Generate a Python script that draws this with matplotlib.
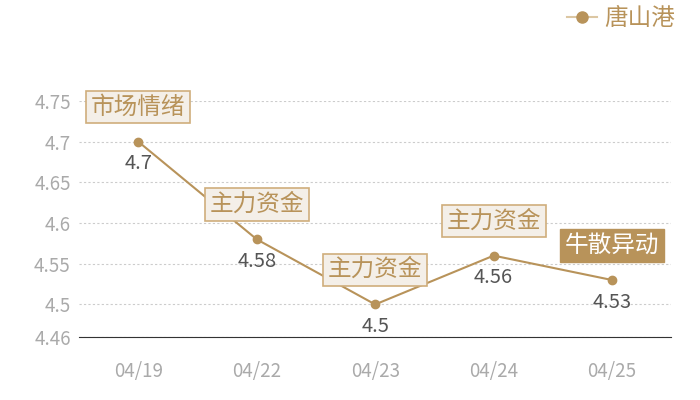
import matplotlib.pyplot as plt

plt.rcParams['font.family'] = ['Noto Sans CJK SC', 'DejaVu Sans']

dates = ['04/19', '04/22', '04/23', '04/24', '04/25']
prices = [4.70, 4.58, 4.50, 4.56, 4.53]
tags = ['市场情绪', '主力资金', '主力资金', '主力资金', '牛散异动']
yticks = [4.46, 4.5, 4.55, 4.6, 4.65, 4.7, 4.75]
yticklabels = ['4.46', '4.5', '4.55', '4.6', '4.65', '4.7', '4.75']

gold = '#b8935a'

fig = plt.figure(figsize=(7, 4), dpi=100)
ax = fig.add_axes([0.113, 0.1575, 0.846, 0.59])

x = list(range(len(dates)))
ax.plot(x, prices, color=gold, lw=1.5, marker='o', ms=6, label='唐山港',
        zorder=3, clip_on=False)

# value labels under the points, tag boxes above
for i, (p, t) in enumerate(zip(prices, tags)):
    ax.annotate(f'{p:g}', (i, p), xytext=(0, -16), textcoords='offset points',
                ha='center', va='center', fontsize=14.5, color='#555555')
    if i == len(dates) - 1:
        box = dict(boxstyle='square,pad=0.2', fc=gold, ec=gold)
        tc = 'white'
    else:
        box = dict(boxstyle='square,pad=0.2', fc='#f4efe8', ec='#cfae7c', lw=1.2)
        tc = gold
    ax.annotate(t, (i, p), xytext=(0, 25), textcoords='offset points',
                ha='center', va='center', fontsize=17, color=tc, bbox=box,
                zorder=4)

ax.set_xlim(-0.5, len(dates) - 0.5)
ax.set_ylim(4.46, 4.75)
ax.set_xticks(x)
ax.set_xticklabels(dates)
ax.set_yticks(yticks)
ax.set_yticklabels(yticklabels)
ax.tick_params(axis='both', length=0, colors='#aaaaaa', labelsize=13.5)
ax.tick_params(axis='x', pad=17)
ax.tick_params(axis='y', pad=6)
ax.grid(axis='y', ls=(0, (2, 2)), color='#cccccc', lw=0.8)
ax.set_axisbelow(True)
for s in ['top', 'right', 'left']:
    ax.spines[s].set_visible(False)
ax.spines['bottom'].set_color('#333333')

leg = fig.legend(loc='upper right', bbox_to_anchor=(0.995, 1.035), frameon=False,
                 fontsize=17, handlelength=1.3, handletextpad=0.3)
for txt in leg.get_texts():
    txt.set_color(gold)
h = leg.legend_handles[0]
h.set_color('#dcc7a3')
h.set_markerfacecolor(gold)
h.set_markeredgecolor(gold)
h.set_markersize(8)

fig.savefig('out.png', dpi=100)
